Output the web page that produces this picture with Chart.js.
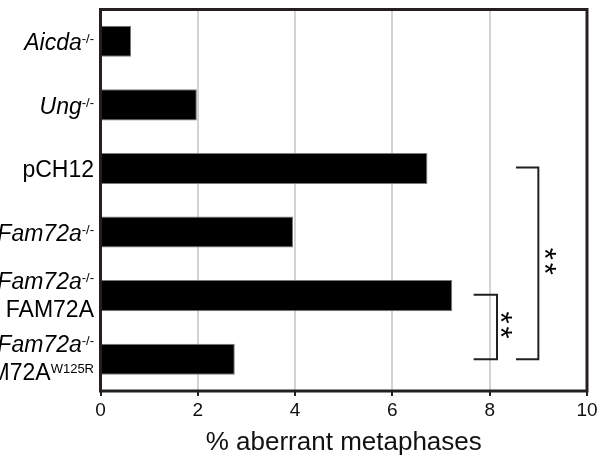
<!DOCTYPE html>
<html>
<head>
<meta charset="utf-8">
<script src="https://cdn.jsdelivr.net/npm/chart.js@4.4.1/dist/chart.umd.min.js"></script>
<style>
    html, body { margin: 0; padding: 0; background: #fff; }
    #wrap { width: 601px; height: 458px; }
</style>
</head>
<body>
<div id="wrap"><canvas id="myChart"></canvas></div>
<script>
// Dados do gráfico
const genotipos = ['Aicda-/-', 'Ung-/-', 'pCH12', 'Fam72a-/-', 'Fam72a-/- + FAM72A', 'Fam72a-/- + FAM72A W125R'];
const aberrantes = [0.63, 1.98, 6.72, 3.96, 7.23, 2.76];
const ticksX = [0, 2, 4, 6, 8, 10];

// Rótulos com itálico e sobrescrito (uma lista de linhas por genótipo)
const rotulos = [
    [[{ t: 'Aicda', it: true }, { t: '-/-', sup: true }]],
    [[{ t: 'Ung', it: true }, { t: '-/-', sup: true }]],
    [[{ t: 'pCH12' }]],
    [[{ t: 'Fam72a', it: true }, { t: '-/-', sup: true }]],
    [[{ t: 'Fam72a', it: true }, { t: '-/-', sup: true }], [{ t: '+ FAM72A' }]],
    [[{ t: 'Fam72a', it: true }, { t: '-/-', sup: true }], [{ t: '+ FAM72A' }, { t: 'W125R', sup: true }]]
];

// Comparações significativas (índices das barras)
const comparacoes = [
    { de: 4, ate: 5, sig: '**' },
    { de: 2, ate: 5, sig: '**' }
];

const FONTE = '"Liberation Sans", Arial, sans-serif';
const ESCURO = '#231f20';

const extras = {
    id: 'extras',
    afterDraw(chart) {
        const { ctx, chartArea, scales } = chart;
        const x = scales.x, y = scales.y;
        ctx.save();

        // moldura
        ctx.strokeStyle = ESCURO;
        ctx.lineWidth = 3;
        ctx.strokeRect(chartArea.left, chartArea.top, chartArea.right - chartArea.left, chartArea.bottom - chartArea.top);

        // rótulos do eixo y
        ctx.fillStyle = '#000';
        ctx.textAlign = 'left';
        ctx.textBaseline = 'alphabetic';
        const fonteRun = r => r.sup ? '13px ' + FONTE : (r.it ? 'italic ' : '') + '23px ' + FONTE;
        rotulos.forEach((linhas, i) => {
            const cy = y.getPixelForValue(i);
            linhas.forEach((runs, j) => {
                let base;
                if (linhas.length === 1) base = cy + 9;
                else base = cy - 7 + j * 28;
                let larg = 0;
                runs.forEach(r => { ctx.font = fonteRun(r); larg += ctx.measureText(r.t).width; });
                let px = chartArea.left - 6.5 - larg;
                runs.forEach(r => {
                    ctx.font = fonteRun(r);
                    ctx.fillText(r.t, px, r.sup ? base - 7 : base);
                    px += ctx.measureText(r.t).width;
                });
            });
        });

        // colchetes de significância
        const posicoes = [[7.67, 8.15, 8.34], [8.54, 9.0, 9.23]];
        ctx.lineWidth = 2;
        comparacoes.forEach((c, k) => {
            const [a, b, s] = posicoes[k];
            const y0 = y.getPixelForValue(c.de) - 1;
            const y1 = y.getPixelForValue(c.ate);
            const xa = x.getPixelForValue(a), xb = x.getPixelForValue(b);
            ctx.beginPath();
            ctx.moveTo(xa, y0);
            ctx.lineTo(xb, y0);
            ctx.lineTo(xb, y1);
            ctx.lineTo(xa, y1);
            ctx.stroke();
            // asteriscos empilhados (texto girado)
            ctx.font = '31px ' + FONTE;
            ctx.textAlign = 'center';
            const m = ctx.measureText('*');
            const meio = (y0 + y1) / 2 - 2;
            const xs = x.getPixelForValue(s);
            [-7.5, 7.5].forEach(d => {
                ctx.save();
                ctx.translate(xs, meio + d);
                ctx.rotate(Math.PI / 2);
                ctx.fillText('*', 0, (m.actualBoundingBoxAscent - m.actualBoundingBoxDescent) / 2);
                ctx.restore();
            });
            ctx.textAlign = 'left';
        });
        ctx.restore();
    }
};

const ctx = document.getElementById('myChart').getContext('2d');
const myChart = new Chart(ctx, {
    type: 'bar',
    data: {
        labels: genotipos,
        datasets: [{
            label: '% aberrant metaphases',
            data: aberrantes,
            backgroundColor: '#000',
            borderColor: '#7a7a7a',
            borderWidth: 1,
            categoryPercentage: 1,
            barPercentage: 0.49
        }]
    },
    options: {
        indexAxis: 'y',
        responsive: true,
        maintainAspectRatio: false,
        animation: false,
        layout: { padding: { left: 100.5, top: 9.5, right: 14, bottom: 0 } },
        plugins: {
            legend: { display: false },
            tooltip: { enabled: false }
        },
        scales: {
            x: {
                min: 0,
                max: 10,
                afterBuildTicks: s => { s.ticks = ticksX.map(v => ({ value: v })); },
                afterFit: s => { s.height = 67; },
                grid: { color: '#d3d3d3', lineWidth: 2, tickColor: ESCURO, tickLength: 5, tickWidth: 2 },
                border: { display: false },
                ticks: { color: '#111', font: { size: 19, family: FONTE }, padding: 3, maxRotation: 0 },
                title: { display: true, text: '% aberrant metaphases', color: '#111', font: { size: 26, family: FONTE }, padding: { top: 5, bottom: 0 } }
            },
            y: {
                display: false
            }
        }
    },
    plugins: [extras]
});
</script>
</body>
</html>
